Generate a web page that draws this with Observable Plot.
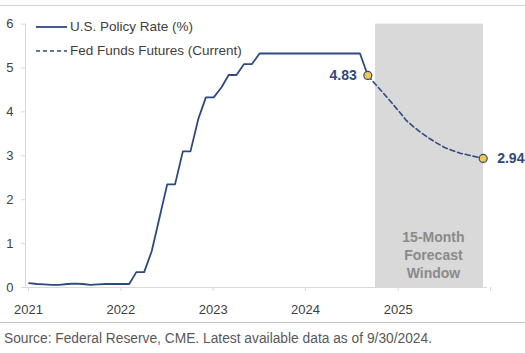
<!DOCTYPE html>
<html>
<head>
<meta charset="utf-8">
<script src="https://cdn.jsdelivr.net/npm/d3@7"></script>
<script src="https://cdn.jsdelivr.net/npm/@observablehq/plot@0.6"></script>
<style>
  body { margin: 0; background: #fff; }
  #wrap { position: relative; width: 525px; height: 353px; background: #fff; font-family: "Liberation Sans", Arial, sans-serif; overflow: hidden; }
  .hr { position: absolute; left: 0; width: 525px; height: 1px; background: #d0d0d0; }
  #chart { position: absolute; left: 0; top: 0; }
  .leg { position: absolute; left: 36px; font-size: 13.5px; color: #404040; display: flex; align-items: center; white-space: nowrap; }
  .leg svg { margin-right: 3px; }
  #cap { position: absolute; left: 0; top: 326px; }
</style>
</head>
<body>
<div id="wrap">
  <div class="hr" style="top:5px"></div>
  <div id="chart"></div>
  <div class="leg" style="top:19px"><svg width="31" height="4"><line x1="0" x2="31" y1="2" y2="2" stroke="#2e4a7c" stroke-width="1.8"/></svg>U.S. Policy Rate (%)</div>
  <div class="leg" style="top:43px"><svg width="31" height="4"><line x1="0" x2="31" y1="2" y2="2" stroke="#2e4a7c" stroke-width="1.6" stroke-dasharray="4,3"/></svg>Fed Funds Futures (Current)</div>
  <div class="hr" style="top:322px;background:#c8c8c8"></div>
  <svg id="cap" width="525" height="27"><text x="4" y="17" font-size="14" fill="#595959" font-family="Liberation Sans, Arial, sans-serif" textLength="428" lengthAdjust="spacingAndGlyphs">Source: Federal Reserve, CME. Latest available data as of 9/30/2024.</text></svg>
</div>
<script>
// Monthly U.S. policy rate (%), Jan 2021 – Sep 2024
const policyStart = "2021-01";
const policyValues = [
  0.10, 0.08, 0.07, 0.06, 0.06, 0.08, 0.09, 0.08, 0.06, 0.07, 0.08, 0.08,
  0.08, 0.08, 0.35, 0.35, 0.83, 1.60, 2.35, 2.35, 3.10, 3.10, 3.84, 4.33,
  4.33, 4.56, 4.84, 4.84, 5.09, 5.09, 5.33, 5.33, 5.33, 5.33, 5.33, 5.33,
  5.33, 5.33, 5.33, 5.33, 5.33, 5.33, 5.33, 5.33, 4.83
];
// Fed funds futures (current), Sep 2024 – Dec 2025
const futuresStart = "2024-09";
const futuresValues = [
  4.83, 4.63, 4.43, 4.23, 4.02, 3.80, 3.66, 3.52, 3.40, 3.29, 3.19, 3.12, 3.06, 3.02, 2.98, 2.94
];
const yTicks = [0, 1, 2, 3, 4, 5, 6];
const xYears = ["2021", "2022", "2023", "2024", "2025", "2026"];
const xLabeled = ["2021", "2022", "2023", "2024", "2025"];
const forecastWindow = ["2024-10-15", "2025-12-16"];
const forecastLabel = "15-Month\nForecast\nWindow";

const navy = "#2e4a7c";
const midMonth = (start, i) => {
  const [y, m] = start.split("-").map(Number);
  return new Date(Date.UTC(y, m - 1 + i, 15));
};
const policy = policyValues.map((v, i) => ({date: midMonth(policyStart, i), value: v}));
const futures = futuresValues.map((v, i) => ({date: midMonth(futuresStart, i), value: v}));
const first = futures[0], last = futures[futures.length - 1];
const yearDates = xYears.map(y => new Date(Date.UTC(+y, 0, 1)));
const win = [{x1: new Date(forecastWindow[0]), x2: new Date(forecastWindow[1]), y1: 0, y2: 6}];
const winMid = new Date((win[0].x1.getTime() + win[0].x2.getTime()) / 2);

const chart = Plot.plot({
  width: 525,
  height: 320,
  marginLeft: 25,
  marginRight: 38,
  marginTop: 23.6,
  marginBottom: 33,
  style: {fontFamily: "Liberation Sans, Arial, sans-serif", background: "transparent", overflow: "visible"},
  x: {type: "utc", domain: [yearDates[0], yearDates[yearDates.length - 1]]},
  y: {domain: [0, 6]},
  marks: [
    Plot.rect(win, {x1: "x1", x2: "x2", y1: "y1", y2: "y2", fill: "#d9d9d9"}),
    Plot.text([forecastLabel], {x: winMid, y: 0.75, text: d => d, dx: 4, fill: "#8a8a8a", fontWeight: "bold", fontSize: 14, lineHeight: 1.28, lineAnchor: "middle"}),
    Plot.ruleY([0], {stroke: "#d9d9d9"}),
    Plot.ruleX([yearDates[0]], {stroke: "#d9d9d9"}),
    Plot.axisY({ticks: yTicks, tickSize: 4, tickPadding: 8, stroke: "#d9d9d9", fill: "#404040", fontSize: 13, label: null, tickFormat: d => String(d)}),
    Plot.axisX({ticks: yearDates, tickSize: 4, tickPadding: 13, stroke: "#d9d9d9", fill: "#404040", fontSize: 13, label: null, dx: 3,
      tickFormat: d => xLabeled.includes(String(d.getUTCFullYear())) ? String(d.getUTCFullYear()) : ""}),
    Plot.line(futures, {x: "date", y: "value", stroke: navy, strokeWidth: 1.6, strokeDasharray: "5,3"}),
    Plot.line(policy, {x: "date", y: "value", stroke: navy, strokeWidth: 1.8}),
    Plot.dot([first, last], {x: "date", y: "value", r: 4, fill: "#f2c94c", stroke: navy, strokeWidth: 1.2}),
    Plot.text([first], {x: "date", y: "value", text: d => d.value.toFixed(2), textAnchor: "end", dx: -11, fill: navy, fontWeight: "bold", fontSize: 14}),
    Plot.text([last], {x: "date", y: "value", text: d => d.value.toFixed(2), textAnchor: "start", dx: 14, fill: navy, fontWeight: "bold", fontSize: 14})
  ]
});
document.getElementById("chart").appendChild(chart);
</script>
</body>
</html>
